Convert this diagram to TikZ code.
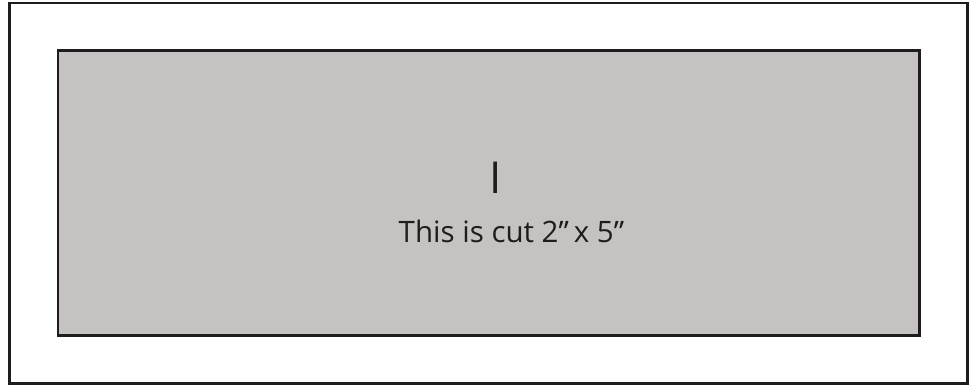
\documentclass[tikz,border=0pt]{standalone}
\usepackage{fontspec}
\setmainfont{Open Sans}
\definecolor{panel}{RGB}{199,194,194}
\definecolor{ink}{RGB}{30,28,28}
\begin{document}
\begin{tikzpicture}[x=1pt,y=-1pt,
  frame/.style={draw=ink,line width=2.4pt},
  label/.style={text=ink,inner sep=0pt,anchor=base west}]
\useasboundingbox (0,0) rectangle (975,386);
\draw[frame,fill=white] (9.5,3) rectangle (967.5,383.5) coordinate (outerc);
\draw[frame,fill=panel] (57.8,50.5) rectangle (919.5,335.5) coordinate (innerc);
\node[label,font=\fontsize{44}{46}\selectfont] (big) at (489.5,193) {I};
\node[label,font=\fontsize{29.5}{32}\selectfont] (cut) at (398.5,242.7) {This is cut 2”\,x 5”};
\end{tikzpicture}
\end{document}
